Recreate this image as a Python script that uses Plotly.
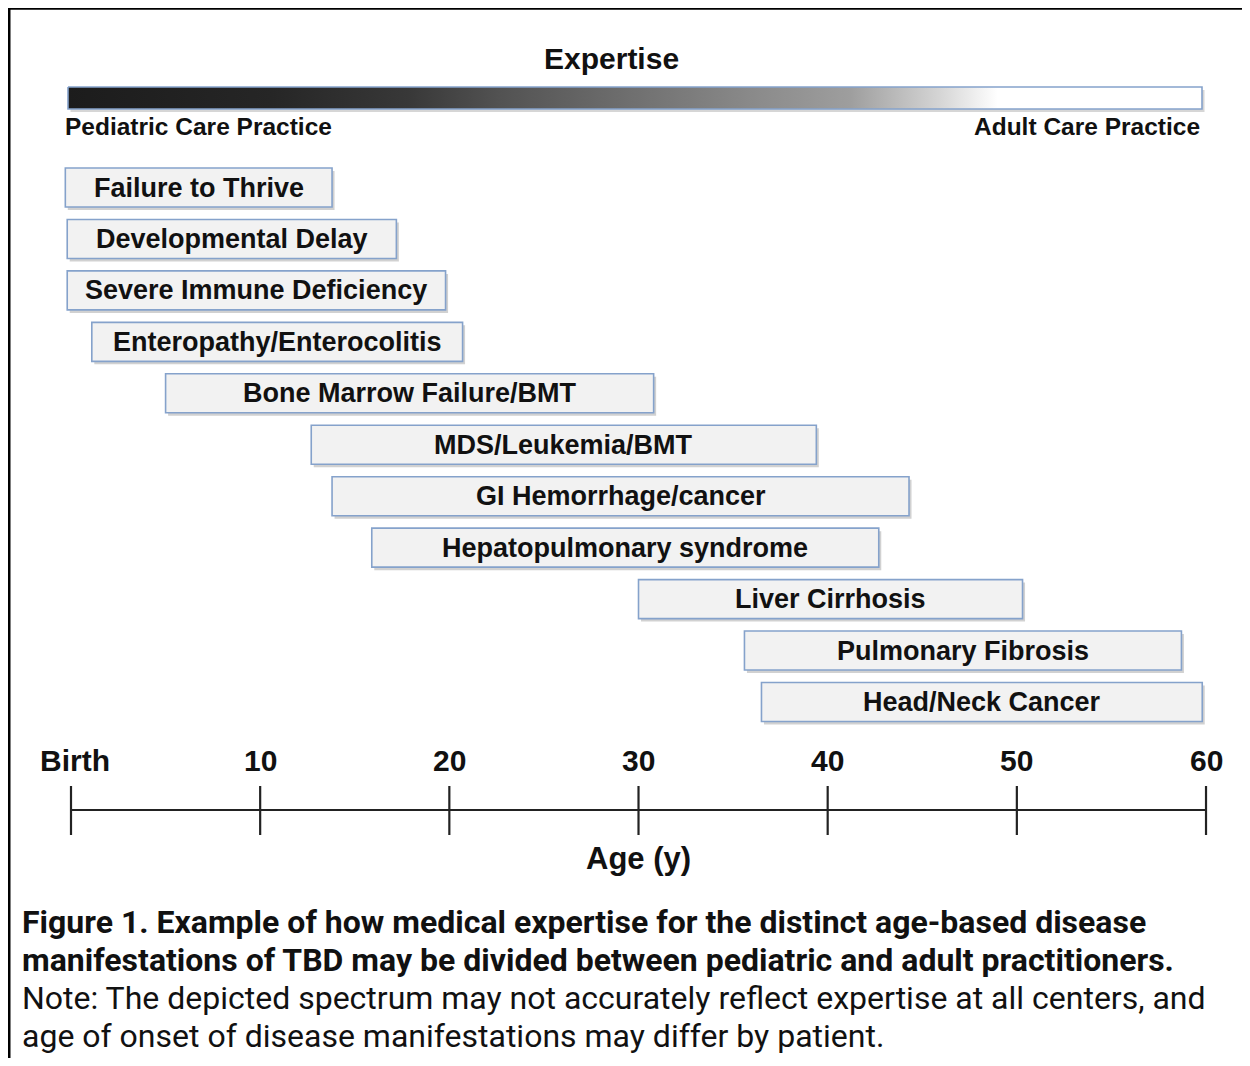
import plotly.graph_objects as go

# ---------------- data ----------------
labels = [
    "Failure to Thrive",
    "Developmental Delay",
    "Severe Immune Deficiency",
    "Enteropathy/Enterocolitis",
    "Bone Marrow Failure/BMT",
    "MDS/Leukemia/BMT",
    "GI Hemorrhage/cancer",
    "Hepatopulmonary syndrome",
    "Liver Cirrhosis",
    "Pulmonary Fibrosis",
    "Head/Neck Cancer",
]
start_age = [-0.3, -0.2, -0.2, 1.1, 5.0, 12.7, 13.8, 15.9, 30.0, 35.6, 36.5]
end_age = [13.8, 17.2, 19.8, 20.7, 30.8, 39.4, 44.3, 42.7, 50.3, 58.7, 59.8]
tick_ages = [0, 10, 20, 30, 40, 50, 60]
tick_labels = ["Birth", "10", "20", "30", "40", "50", "60"]

caption_lines = [
    ("Figure 1. Example of how medical expertise for the distinct age-based disease", True),
    ("manifestations of TBD may be divided between pediatric and adult practitioners.", True),
    ("Note: The depicted spectrum may not accurately reflect expertise at all centers, and", False),
    ("age of onset of disease manifestations may differ by patient.", False),
]

# ---------------- layout constants ----------------
OFF = 8                      # page body margin of the html page
W, H = 1250 - 2 * OFF, 1066 - 2 * OFF
X0PX, PXPERYR = 71.0, 18.917      # page pixel of age 0, pixels per year
ROW0PX, ROWPX = 187.5, 51.45      # page pixel centre of first row, row pitch
BAR_H = 39.0
ARIAL = "Liberation Sans, Arial, sans-serif"
ROBOTO = "Roboto, sans-serif"
EDGE = "#85a2cb"
INK = "#111111"


def age_of(px):
    return (px - X0PX) / PXPERYR


def row_of(py):
    return (py - ROW0PX) / ROWPX


def px_paper(px):
    return (px - OFF) / W


def py_paper(py):
    return 1 - (py - OFF) / H


rows = list(range(len(labels)))
durations = [e - s for s, e in zip(start_age, end_age)]

fig = go.Figure()

# gradient bar shadow + bar
gx = [age_of(68), age_of(1202), age_of(1202), age_of(68), age_of(68)]
gy = [row_of(87), row_of(87), row_of(109), row_of(109), row_of(87)]
fig.add_trace(go.Scatter(
    x=[v + 2.5 / PXPERYR for v in gx], y=[v + 3 / ROWPX for v in gy],
    mode="lines", fill="toself", fillcolor="rgba(90,90,90,0.25)",
    line=dict(width=0), hoverinfo="skip", showlegend=False))
fig.add_trace(go.Scatter(
    x=gx, y=gy, mode="lines", fill="toself",
    fillgradient=dict(type="horizontal", colorscale=[
        [0.0, "#1c1c1c"], [0.18, "#262626"], [0.30, "#383838"],
        [0.38, "#525252"], [0.60, "#898989"], [0.69, "#9e9e9e"],
        [0.77, "#d6d6d6"], [0.82, "#ffffff"], [1.0, "#ffffff"]]),
    line=dict(color=EDGE, width=1.6), hoverinfo="skip", showlegend=False))

# bar shadows
fig.add_trace(go.Bar(
    orientation="h", y=[r + 3 / ROWPX for r in rows],
    base=[s + 2.5 / PXPERYR for s in start_age], x=durations,
    width=BAR_H / ROWPX,
    marker=dict(color="rgba(90,90,90,0.28)", line=dict(width=0)),
    hoverinfo="skip", showlegend=False))
# bars
fig.add_trace(go.Bar(
    orientation="h", y=rows, base=start_age, x=durations,
    width=BAR_H / ROWPX,
    marker=dict(color="#f2f2f2", line=dict(color=EDGE, width=1.6)),
    hoverinfo="skip", showlegend=False))

annotations = []
for lab, s, e, r in zip(labels, start_age, end_age, rows):
    annotations.append(dict(
        x=(s + e) / 2, y=r, xref="x", yref="y", text=lab, showarrow=False,
        xanchor="center", yanchor="middle",
        font=dict(family=ARIAL, size=27, color=INK, weight="bold")))

# header texts
annotations.append(dict(x=px_paper(611), y=py_paper(58), xref="paper", yref="paper",
                        text="Expertise", showarrow=False, xanchor="center", yanchor="middle",
                        font=dict(family=ARIAL, size=30, color=INK, weight="bold")))
annotations.append(dict(x=px_paper(63), y=py_paper(127), xref="paper", yref="paper",
                        text="Pediatric Care Practice", showarrow=False, xanchor="left", yanchor="middle",
                        font=dict(family=ARIAL, size=24.5, color=INK, weight="bold")))
annotations.append(dict(x=px_paper(1202), y=py_paper(127), xref="paper", yref="paper",
                        text="Adult Care Practice", showarrow=False, xanchor="right", yanchor="middle",
                        font=dict(family=ARIAL, size=24.5, color=INK, weight="bold")))

# timeline
shapes = []
shapes.append(dict(type="line", xref="x", yref="paper", x0=tick_ages[0], x1=tick_ages[-1],
                   y0=py_paper(810), y1=py_paper(810), line=dict(color="#222222", width=2.2)))
for a, t in zip(tick_ages, tick_labels):
    shapes.append(dict(type="line", xref="x", yref="paper", x0=a, x1=a,
                       y0=py_paper(786), y1=py_paper(835), line=dict(color="#222222", width=2.2)))
    annotations.append(dict(x=a + (0.2 if t == "Birth" else 0), y=py_paper(760), xref="x", yref="paper",
                            text=t, showarrow=False, xanchor="center", yanchor="middle",
                            font=dict(family=ARIAL, size=30, color=INK, weight="bold")))
annotations.append(dict(x=30, y=py_paper(858), xref="x", yref="paper", text="Age (y)",
                        showarrow=False, xanchor="center", yanchor="middle",
                        font=dict(family=ARIAL, size=31, color=INK, weight="bold")))

# caption
cap_centers = [922, 960, 998, 1036]
for (txt, bold), cy in zip(caption_lines, cap_centers):
    annotations.append(dict(x=px_paper(20), y=py_paper(cy), xref="paper", yref="paper", text=txt,
                            showarrow=False, xanchor="left", yanchor="middle",
                            font=dict(family=ROBOTO, size=32, color=INK,
                                      weight="bold" if bold else "normal")))

# frame lines
shapes.append(dict(type="line", xref="paper", yref="paper", x0=px_paper(6.5), x1=1.0,
                   y0=py_paper(8.5), y1=py_paper(8.5), line=dict(color="black", width=2.5)))
shapes.append(dict(type="line", xref="paper", yref="paper", x0=px_paper(9.25), x1=px_paper(9.25),
                   y0=py_paper(7.5), y1=0, line=dict(color="black", width=2.5)))

fig.update_layout(
    width=W, height=H, margin=dict(l=0, r=0, t=0, b=0),
    paper_bgcolor="white", plot_bgcolor="white",
    barmode="overlay", showlegend=False,
    xaxis=dict(range=[age_of(OFF), age_of(OFF + W)], visible=False, fixedrange=True),
    yaxis=dict(range=[row_of(OFF + H), row_of(OFF)], visible=False, fixedrange=True),
    annotations=annotations, shapes=shapes,
)

fig.write_html("out.html")
